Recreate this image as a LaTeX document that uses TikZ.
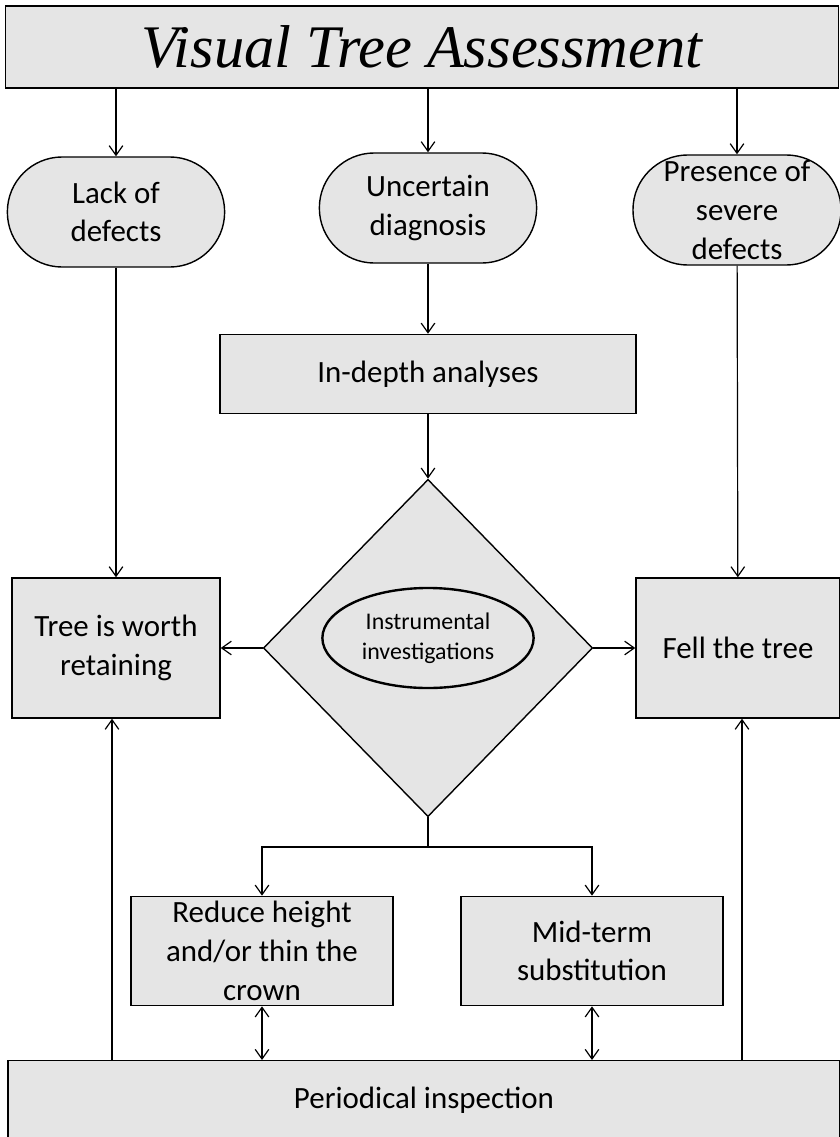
\documentclass[tikz,border=0pt]{standalone}
\usepackage{fontspec}
\setmainfont{Carlito}
\newfontfamily\titlefont{Liberation Serif}
\usepackage{tikz}
\usetikzlibrary{shapes.geometric, arrows.meta, positioning, calc}

\begin{document}
\begin{tikzpicture}[
  x=0.025cm, y=-0.025cm,
  box/.style={rectangle, draw, fill=black!10, line width=1pt, align=center, font=\fontsize{22}{27.5}\selectfont},
  pill/.style={box, rounded corners=1.37cm, minimum width=5.43cm, minimum height=2.75cm, inner sep=1pt},
  decision/.style={diamond, draw, fill=black!10, line width=1pt, inner sep=0pt, minimum width=8.23cm, minimum height=8.43cm},
  arr/.style={-{Straight Barb[length=2.4mm, width=3.4mm]}, line width=0.85pt},
  dbl/.style={{Straight Barb[length=2.4mm, width=3.4mm]}-{Straight Barb[length=2.4mm, width=3.4mm]}, line width=0.85pt}
]
  \useasboundingbox (0,0) rectangle (840,1137);

  \node[box, minimum width=20.83cm, minimum height=2.05cm, font=\titlefont\itshape\fontsize{43}{48}\selectfont] (title) at (422,47) {Visual Tree Assessment};

  \node[pill] (lack) at (116,212) {Lack of\\defects};
  \node[pill] (uncertain) at (428,208) {Uncertain\\diagnosis};
  \node[pill, minimum width=5.2cm] (presence) at (737,210) {Presence of\\severe\\defects};

  \node[box, minimum width=10.4cm, minimum height=1.98cm, below=1.75cm of uncertain] (indepth) {In-depth analyses};
  \node[decision] (check) at (428,648) {};
  \node[ellipse, draw, line width=1.7pt, minimum width=5.28cm, minimum height=2.5cm, inner sep=0pt, align=center, font=\fontsize{17}{21}\selectfont] (instr) at (428,638) {Instrumental\\investigations};

  \node[box, minimum width=5.2cm, minimum height=3.5cm] (retain) at (116,648) {Tree is worth\\retaining};
  \node[box, minimum width=5.1cm, minimum height=3.5cm] (fell) at (738,648) {Fell the tree};

  \node[box, minimum width=6.55cm, minimum height=2.73cm] (reduce) at (262,951) {Reduce height\\and/or thin the\\crown};
  \node[box, minimum width=6.55cm, minimum height=2.73cm] (midterm) at (592,951) {Mid-term\\substitution};

  \node[box, minimum width=20.8cm, minimum height=2.1cm, anchor=north] (periodic) at (424,1060) {};
  \node[font=\fontsize{22}{27.5}\selectfont] (periodictext) at (424,1100) {Periodical inspection};

  \coordinate (split) at (428,847);

  \draw[arr] (title.south -| lack.north) -- (lack.north);
  \draw[arr] (title.south -| uncertain.north) -- (uncertain.north);
  \draw[arr] (title.south -| presence.north) -- (presence.north);
  \draw[arr] (uncertain) -- (indepth);
  \draw[arr] (indepth) -- (check.north);
  \draw[arr] (lack) -- (retain);
  \draw[arr] (presence) -- (fell);
  \draw[arr] (check.west) -- (retain.east);
  \draw[arr] (check.east) -- (fell.west);
  \draw[line width=0.85pt] (check.south) -- (split);
  \draw[arr] (split) -| (reduce.north);
  \draw[arr] (split) -| (midterm.north);
  \draw[dbl] (reduce.south) -- (reduce.south |- periodic.north);
  \draw[dbl] (midterm.south) -- (midterm.south |- periodic.north);
  \draw[arr] ([xshift=-0.1cm]retain.south |- periodic.north) -- ([xshift=-0.1cm]retain.south);
  \draw[arr] ([xshift=0.1cm]fell.south |- periodic.north) -- ([xshift=0.1cm]fell.south);
\end{tikzpicture}
\end{document}
